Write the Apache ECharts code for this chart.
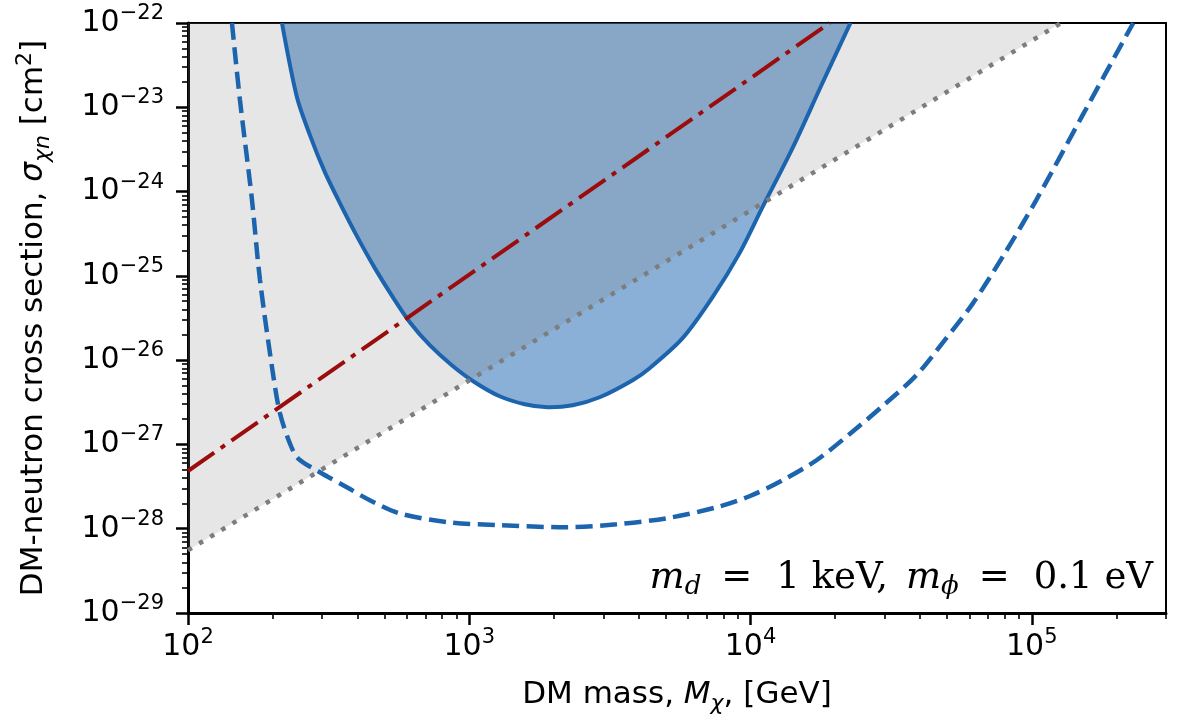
<!DOCTYPE html>
<html>
<head>
<meta charset="utf-8">
<script src="https://cdn.jsdelivr.net/npm/echarts@6/dist/echarts.min.js"></script>
<style>
  html, body { margin: 0; padding: 0; background: #fff; }
  #chart { width: 1186px; height: 718px; }
</style>
</head>
<body>
<div id="chart"></div>
<script>
// Axis ranges (GeV, cm^2) and decade tick exponents
const xRange = [1e2, 3e5];
const yRange = [1e-29, 1e-22];
const xTickExps = [2, 3, 4, 5];
const yTickExps = [-29, -28, -27, -26, -25, -24, -23, -22];

// Excluded region, solid outline (left branch top -> minimum -> right branch top)
const regionMass = [215.8, 243.9, 271.3, 306.6, 346.7, 398.6, 461.6, 534.9, 614.7, 723.9,
  866.8, 1046, 1283, 1575, 1900, 2332, 2908, 3809, 4378, 5734, 7328, 9140, 11030, 14100,
  17880, 22660];
const regionSigma = [1e-22, 1.323e-23, 4.68e-24, 1.70e-24, 7.30e-25, 2.96e-25, 1.235e-25,
  5.59e-26, 2.82e-26, 1.505e-26, 8.71e-27, 5.47e-27, 3.73e-27, 3.0e-27, 2.76e-27, 2.92e-27,
  3.63e-27, 5.78e-27, 8.03e-27, 1.823e-26, 5.59e-26, 1.862e-25, 6.54e-25, 3.28e-24,
  1.837e-23, 1e-22];

// Dashed sensitivity curve
const dashMass = [143.3, 153, 168.4, 180.3, 200.4, 212.3, 230.3, 246, 294.4, 367, 443, 566,
  852, 1283, 2221, 3342, 5030, 7573, 9918, 13000, 17160, 22470, 29440, 38880, 48100, 61460,
  79860, 103700, 151100, 229400];
const dashSigma = [1e-22, 1.22e-23, 8.6e-25, 8.9e-26, 7.0e-27, 2.34e-27, 1.03e-27, 6.85e-28,
  4.68e-28, 3.1e-28, 2.18e-28, 1.52e-28, 1.19e-28, 1.1e-28, 1.04e-28, 1.13e-28, 1.33e-28,
  1.796e-28, 2.43e-28, 3.76e-28, 6.49e-28, 1.322e-27, 2.84e-27, 6.63e-27, 1.59e-26, 4.62e-26,
  1.811e-25, 7.92e-25, 7.9e-24, 1e-22];

// Dash-dot line
const dashDotMass = [100, 19100];
const dashDotSigma = [4.84e-28, 1e-22];

// Dotted line bounding the grey area from below
const dotMass = [100, 127000];
const dotSigma = [5.55e-29, 1e-22];

const FONT = 'DejaVu Sans';
const SERIF = 'DejaVu Serif';
const BLUE = '#1c64ad';
const lg = Math.log10;
// both axes are drawn in decades: points become [log10 M, log10 sigma]
const toLog = (ms, ss) => ms.map((m, i) => [lg(m), lg(ss[i])]);

const xMin = lg(xRange[0]), xMax = lg(xRange[1]);
const yMin = lg(yRange[0]), yMax = lg(yRange[1]);

const dotPts = toLog(dotMass, dotSigma);
const greyArea = dotPts.concat([[xMin, yMax]]);
const regionPts = toLog(regionMass, regionSigma);

// minor tick positions at 2..9 x 10^n
const xMinor = [];
for (let e = 2; e <= 5; e++) for (let k = 2; k <= 9; k++) {
  const v = lg(k) + e;
  if (v <= xMax + 1e-9) xMinor.push(v);
}
const yMinor = [];
for (let e = -29; e < -22; e++) for (let k = 2; k <= 9; k++) yMinor.push(lg(k) + e);

const expLabel = v => '{b|10}{s|' + String(Math.round(v)).replace('-', '\u2212') + '}';
const tickRich = {
  b: { fontSize: 30, lineHeight: 40, fontFamily: FONT, color: '#000' },
  s: { fontSize: 21, lineHeight: 20, verticalAlign: 'top', fontFamily: FONT, color: '#000' }
};
const nameRich = {
  n: { fontSize: 31, lineHeight: 40, fontFamily: FONT, color: '#000' },
  i: { fontSize: 31, lineHeight: 40, fontFamily: FONT, fontStyle: 'italic', color: '#000' },
  sub: { fontSize: 22, lineHeight: 20, verticalAlign: 'bottom', fontFamily: FONT, fontStyle: 'italic', color: '#000' },
  sup: { fontSize: 22, lineHeight: 20, verticalAlign: 'top', fontFamily: FONT, color: '#000' }
};
const bare = { show: false };

// one smoothed path through all region points; open path, so the fill closes along the top
function regionPath(api, style) {
  return {
    type: 'polyline',
    shape: { points: regionPts.map(p => api.coord(p)), smooth: 0.3 },
    style: style
  };
}

const chart = echarts.init(document.getElementById('chart'), null, { renderer: 'canvas' });

const option = {
  animation: false,
  backgroundColor: '#fff',
  grid: { left: 188, top: 23, width: 978, height: 590, containLabel: false, outerBoundsMode: 'none' },
  xAxis: [{
    type: 'value', min: xMin, max: xMax, position: 'bottom',
    axisLine: { show: true, lineStyle: { color: '#000', width: 3 } },
    axisTick: { show: true, length: 12, customValues: xTickExps, lineStyle: { color: '#000', width: 2.5 } },
    splitLine: bare,
    axisLabel: { margin: 14, customValues: xTickExps, formatter: expLabel, rich: tickRich },
    name: '{n|DM mass, }{i|M}{sub|\u03c7}{n|, [GeV]}',
    nameLocation: 'middle', nameGap: 62,
    nameTextStyle: { rich: nameRich }
  }, {
    // minor ticks along the mass axis
    type: 'value', min: xMin, max: xMax, position: 'bottom',
    axisLine: bare, splitLine: bare, axisLabel: bare,
    axisTick: { show: true, length: 6, customValues: xMinor, lineStyle: { color: '#000', width: 1.6 } }
  }, {
    // upper frame edge
    type: 'value', min: xMin, max: xMax, position: 'top',
    axisLine: { show: true, lineStyle: { color: '#000', width: 2 } },
    axisTick: bare, axisLabel: bare, splitLine: bare
  }],
  yAxis: [{
    type: 'value', min: yMin, max: yMax, interval: 1, position: 'left',
    axisLine: { show: true, lineStyle: { color: '#000', width: 3 } },
    axisTick: { show: true, length: 12, customValues: yTickExps, lineStyle: { color: '#000', width: 2.5 } },
    splitLine: bare,
    axisLabel: { margin: 24, customValues: yTickExps, formatter: expLabel, rich: tickRich },
    name: '{n|DM-neutron cross section, }{i|\u03c3}{sub|\u03c7n}{n| [cm}{sup|2}{n|]}',
    nameLocation: 'middle', nameGap: 134, nameRotate: 90,
    nameTextStyle: { rich: nameRich }
  }, {
    // minor ticks along the cross-section axis
    type: 'value', min: yMin, max: yMax, position: 'left',
    axisLine: bare, splitLine: bare, axisLabel: bare,
    axisTick: { show: true, length: 6, customValues: yMinor, lineStyle: { color: '#000', width: 1.6 } }
  }, {
    // right frame edge
    type: 'value', min: yMin, max: yMax, position: 'right',
    axisLine: { show: true, lineStyle: { color: '#000', width: 2 } },
    axisTick: bare, axisLabel: bare, splitLine: bare
  }],
  series: [
    {
      // excluded region fill
      type: 'custom', clip: true, silent: true, data: regionPts,
      renderItem: (params, api) => params.dataIndex !== 0 ? null :
        regionPath(api, { fill: 'rgba(21, 97, 177, 0.5)', stroke: null })
    },
    {
      // translucent grey veil above the dotted line
      type: 'custom', clip: true, silent: true, data: greyArea,
      renderItem: (params, api) => params.dataIndex !== 0 ? null : {
        type: 'polygon',
        shape: { points: greyArea.map(p => api.coord(p)) },
        style: { fill: 'rgba(128, 128, 128, 0.2)', stroke: null }
      }
    },
    {
      type: 'line', data: dotPts, showSymbol: false, silent: true, clip: true,
      lineStyle: { color: '#7d7d7d', width: 4.5, type: [4.5, 8.5], cap: 'butt' }
    },
    {
      type: 'line', data: toLog(dashDotMass, dashDotSigma), showSymbol: false, silent: true, clip: true,
      lineStyle: { color: '#9b0c0c', width: 4, type: [32, 8, 5, 8], cap: 'butt' }
    },
    {
      // excluded region outline
      type: 'custom', clip: true, silent: true, data: regionPts,
      renderItem: (params, api) => params.dataIndex !== 0 ? null :
        regionPath(api, { fill: null, stroke: BLUE, lineWidth: 4 })
    },
    {
      type: 'line', data: toLog(dashMass, dashSigma), showSymbol: false, silent: true, clip: true,
      smooth: 0.3,
      lineStyle: { color: BLUE, width: 4.5, type: [17, 7.5], cap: 'butt' }
    }
  ],
  graphic: [{
    type: 'text', right: 33, top: 560, z: 100,
    style: {
      text: '{i|m}{s|d}{e|=}{r|1 keV,}{j|m}{s|\u03d5}{e|=}{r|0.1 eV}',
      fill: '#000',
      rich: {
        r: { fontFamily: SERIF, fontSize: 37, lineHeight: 44 },
        i: { fontFamily: SERIF, fontSize: 37, lineHeight: 44, fontStyle: 'italic' },
        j: { fontFamily: SERIF, fontSize: 37, lineHeight: 44, fontStyle: 'italic', padding: [0, 0, 0, 18] },
        e: { fontFamily: SERIF, fontSize: 37, lineHeight: 44, padding: [0, 24, 0, 20] },
        s: { fontFamily: SERIF, fontSize: 26, lineHeight: 24, verticalAlign: 'bottom', fontStyle: 'italic' }
      }
    }
  }]
};

chart.setOption(option);
</script>
</body>
</html>
